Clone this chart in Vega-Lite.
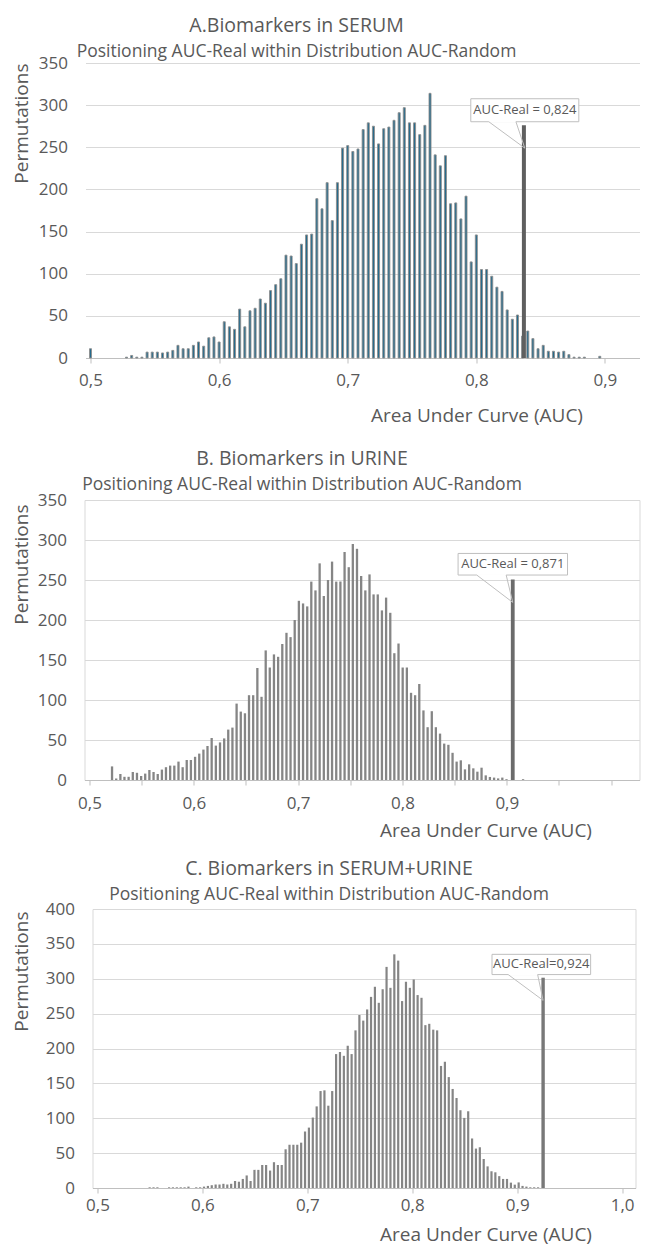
{
"$schema": "https://vega.github.io/schema/vega-lite/v6.json",
"background": "white",
"padding": {"left": 10.5, "top": 16, "right": 0, "bottom": 0},
"spacing": 23,
"config": {
  "font": "Open Sans",
  "axis": {"labelColor": "#595959", "titleColor": "#595959", "labelFontSize": 17, "titleFontSize": 19, "titleFontWeight": "normal", "gridColor": "#d9d9d9", "domainColor": "#bfbfbf", "tickColor": "#bfbfbf", "labelFont": "Open Sans", "titleFont": "Open Sans"},
  "title": {"fontSize": 19.5, "subtitleFontSize": 17.5, "color": "#595959", "subtitleColor": "#595959", "fontWeight": "normal", "font": "Open Sans", "subtitleFont": "Open Sans", "offset": -5, "subtitlePadding": 6, "anchor": "middle", "frame": "group"}
},
"datasets": {
  "spacer": [{}],
  "barsA": [
    {"auc":0.500,"count":11},{"auc":0.528,"count":1},{"auc":0.532,"count":3},{"auc":0.536,"count":1},{"auc":0.540,"count":1},{"auc":0.544,"count":7},{"auc":0.548,"count":7},{"auc":0.552,"count":7},{"auc":0.556,"count":6},{"auc":0.560,"count":7},{"auc":0.564,"count":9},{"auc":0.568,"count":15},{"auc":0.572,"count":11},{"auc":0.576,"count":11},{"auc":0.580,"count":15},{"auc":0.584,"count":19},{"auc":0.588,"count":14},{"auc":0.592,"count":24},{"auc":0.596,"count":25},{"auc":0.600,"count":19},{"auc":0.604,"count":43},{"auc":0.608,"count":37},{"auc":0.612,"count":34},{"auc":0.616,"count":58},{"auc":0.620,"count":37},{"auc":0.624,"count":56},{"auc":0.628,"count":59},{"auc":0.632,"count":70},{"auc":0.636,"count":65},{"auc":0.640,"count":80},{"auc":0.644,"count":87},{"auc":0.648,"count":94},{"auc":0.652,"count":122},{"auc":0.656,"count":121},{"auc":0.660,"count":112},{"auc":0.664,"count":135},{"auc":0.668,"count":146},{"auc":0.672,"count":147},{"auc":0.676,"count":189},{"auc":0.680,"count":177},{"auc":0.684,"count":208},{"auc":0.688,"count":163},{"auc":0.692,"count":208},{"auc":0.696,"count":249},{"auc":0.700,"count":252},{"auc":0.704,"count":245},{"auc":0.708,"count":248},{"auc":0.712,"count":271},{"auc":0.716,"count":279},{"auc":0.720,"count":275},{"auc":0.724,"count":254},{"auc":0.728,"count":272},{"auc":0.732,"count":274},{"auc":0.736,"count":282},{"auc":0.740,"count":291},{"auc":0.744,"count":297},{"auc":0.748,"count":279},{"auc":0.752,"count":279},{"auc":0.756,"count":265},{"auc":0.760,"count":276},{"auc":0.764,"count":314},{"auc":0.768,"count":241},{"auc":0.772,"count":228},{"auc":0.776,"count":240},{"auc":0.780,"count":183},{"auc":0.784,"count":184},{"auc":0.788,"count":165},{"auc":0.792,"count":192},{"auc":0.796,"count":114},{"auc":0.800,"count":146},{"auc":0.804,"count":105},{"auc":0.808,"count":105},{"auc":0.812,"count":97},{"auc":0.816,"count":84},{"auc":0.820,"count":79},{"auc":0.824,"count":57},{"auc":0.828,"count":46},{"auc":0.832,"count":51},{"auc":0.836,"count":26},{"auc":0.840,"count":32},{"auc":0.844,"count":23},{"auc":0.848,"count":11},{"auc":0.852,"count":15},{"auc":0.856,"count":8},{"auc":0.860,"count":8},{"auc":0.864,"count":7},{"auc":0.868,"count":8},{"auc":0.872,"count":4},{"auc":0.876,"count":1},{"auc":0.880,"count":1},{"auc":0.884,"count":1},{"auc":0.896,"count":2}
  ],
  "realA": [{"auc":0.837,"count":276}],
  "boxA": [{"auc":0.7957,"auc2":0.8797,"count":280.3,"count2":307.6}],
  "coverA": [{"auc":0.8097,"auc2":0.8308,"count":280.3}],
  "leadA": [{"auc":0.8097,"count":280.3,"auc2":0.8377,"count2":249},{"auc":0.8308,"count":280.3,"auc2":0.8377,"count2":249}],
  "labelA": [{"auc":0.8377,"count":293.9,"label":"AUC-Real = 0,824"}],
  "barsB": [
    {"auc":0.5216,"count":17},{"auc":0.5256,"count":2},{"auc":0.5296,"count":7.5},{"auc":0.5335,"count":4},{"auc":0.5375,"count":4},{"auc":0.5415,"count":10},{"auc":0.5455,"count":9},{"auc":0.5495,"count":5},{"auc":0.5534,"count":8},{"auc":0.5574,"count":12.5},{"auc":0.5614,"count":10},{"auc":0.5654,"count":7.5},{"auc":0.5694,"count":13},{"auc":0.5733,"count":16},{"auc":0.5773,"count":18},{"auc":0.5813,"count":18},{"auc":0.5853,"count":23},{"auc":0.5893,"count":16},{"auc":0.5932,"count":25},{"auc":0.5972,"count":25},{"auc":0.6012,"count":29},{"auc":0.6052,"count":33},{"auc":0.6092,"count":38},{"auc":0.6131,"count":42.5},{"auc":0.6171,"count":52.5},{"auc":0.6211,"count":43},{"auc":0.6251,"count":47},{"auc":0.6291,"count":52},{"auc":0.6330,"count":63},{"auc":0.6370,"count":65.5},{"auc":0.6410,"count":95.5},{"auc":0.6450,"count":85.5},{"auc":0.6490,"count":83.4},{"auc":0.6529,"count":106},{"auc":0.6569,"count":106},{"auc":0.6609,"count":140},{"auc":0.6649,"count":104},{"auc":0.6689,"count":162},{"auc":0.6728,"count":140.6},{"auc":0.6768,"count":157},{"auc":0.6808,"count":154},{"auc":0.6848,"count":170},{"auc":0.6888,"count":184},{"auc":0.6927,"count":178.6},{"auc":0.6967,"count":200},{"auc":0.7007,"count":224},{"auc":0.7047,"count":220.7},{"auc":0.7087,"count":217},{"auc":0.7126,"count":248},{"auc":0.7166,"count":237},{"auc":0.7206,"count":270.8},{"auc":0.7246,"count":230},{"auc":0.7286,"count":250},{"auc":0.7325,"count":273},{"auc":0.7365,"count":248},{"auc":0.7405,"count":248},{"auc":0.7445,"count":285},{"auc":0.7485,"count":266},{"auc":0.7524,"count":295},{"auc":0.7564,"count":289},{"auc":0.7604,"count":255},{"auc":0.7644,"count":237},{"auc":0.7684,"count":257},{"auc":0.7723,"count":232},{"auc":0.7763,"count":232},{"auc":0.7803,"count":212},{"auc":0.7843,"count":228},{"auc":0.7883,"count":209},{"auc":0.7922,"count":158.5},{"auc":0.7962,"count":170.6},{"auc":0.8002,"count":140.6},{"auc":0.8042,"count":140.6},{"auc":0.8082,"count":109},{"auc":0.8121,"count":106},{"auc":0.8161,"count":120},{"auc":0.8201,"count":87},{"auc":0.8241,"count":66},{"auc":0.8281,"count":86},{"auc":0.8320,"count":66},{"auc":0.8360,"count":58},{"auc":0.8400,"count":45.5},{"auc":0.8440,"count":44},{"auc":0.8480,"count":34},{"auc":0.8519,"count":23},{"auc":0.8559,"count":24.6},{"auc":0.8599,"count":13.3},{"auc":0.8639,"count":19.6},{"auc":0.8679,"count":14.6},{"auc":0.8718,"count":10.4},{"auc":0.8758,"count":15.4},{"auc":0.8798,"count":5.8},{"auc":0.8838,"count":3.8},{"auc":0.8878,"count":3},{"auc":0.8917,"count":2},{"auc":0.8957,"count":3},{"auc":0.8997,"count":1},{"auc":0.9156,"count":1}
  ],
  "realB": [{"auc":0.9057,"count":250.7}],
  "boxB": [{"auc":0.8533,"auc2":0.9582,"count":256.2,"count2":283.2}],
  "coverB": [{"auc":0.8712,"auc2":0.8994,"count":256.2}],
  "leadB": [{"auc":0.8712,"count":256.2,"auc2":0.9057,"count2":222},{"auc":0.8994,"count":256.2,"auc2":0.9057,"count2":222}],
  "labelB": [{"auc":0.9057,"count":269.7,"label":"AUC-Real = 0,871"}],
  "barsC": [
    {"auc":0.5497,"count":1},{"auc":0.5534,"count":1},{"auc":0.5571,"count":1},{"auc":0.5682,"count":1},{"auc":0.5719,"count":1},{"auc":0.5756,"count":1},{"auc":0.5793,"count":1},{"auc":0.5830,"count":1},{"auc":0.5867,"count":2},{"auc":0.5941,"count":1},{"auc":0.5978,"count":1},{"auc":0.6015,"count":2},{"auc":0.6052,"count":3},{"auc":0.6089,"count":4},{"auc":0.6126,"count":5},{"auc":0.6163,"count":5},{"auc":0.6200,"count":6},{"auc":0.6237,"count":5},{"auc":0.6274,"count":6},{"auc":0.6311,"count":10},{"auc":0.6348,"count":9},{"auc":0.6385,"count":13},{"auc":0.6422,"count":18},{"auc":0.6459,"count":10},{"auc":0.6496,"count":26},{"auc":0.6533,"count":26},{"auc":0.6570,"count":33},{"auc":0.6607,"count":33},{"auc":0.6645,"count":25},{"auc":0.6682,"count":37},{"auc":0.6719,"count":33},{"auc":0.6756,"count":33},{"auc":0.6793,"count":55.5},{"auc":0.6830,"count":62},{"auc":0.6867,"count":62},{"auc":0.6904,"count":62},{"auc":0.6941,"count":65},{"auc":0.6978,"count":81},{"auc":0.7015,"count":86.6},{"auc":0.7052,"count":101},{"auc":0.7089,"count":117},{"auc":0.7126,"count":139},{"auc":0.7163,"count":140},{"auc":0.7200,"count":118},{"auc":0.7237,"count":139},{"auc":0.7274,"count":192},{"auc":0.7311,"count":195},{"auc":0.7348,"count":189.5},{"auc":0.7385,"count":204},{"auc":0.7422,"count":192},{"auc":0.7459,"count":226},{"auc":0.7496,"count":248},{"auc":0.7533,"count":240},{"auc":0.7570,"count":256},{"auc":0.7607,"count":274},{"auc":0.7644,"count":288.5},{"auc":0.7681,"count":265.5},{"auc":0.7718,"count":285},{"auc":0.7755,"count":317},{"auc":0.7792,"count":287},{"auc":0.7829,"count":335},{"auc":0.7866,"count":326},{"auc":0.7903,"count":268},{"auc":0.7940,"count":295.7},{"auc":0.7977,"count":287},{"auc":0.8014,"count":299},{"auc":0.8051,"count":276.6},{"auc":0.8088,"count":272.7},{"auc":0.8125,"count":233.5},{"auc":0.8162,"count":235.4},{"auc":0.8200,"count":227},{"auc":0.8237,"count":226},{"auc":0.8274,"count":175},{"auc":0.8311,"count":181},{"auc":0.8348,"count":159},{"auc":0.8385,"count":142},{"auc":0.8422,"count":129},{"auc":0.8459,"count":111.5},{"auc":0.8496,"count":100.5},{"auc":0.8533,"count":110},{"auc":0.8570,"count":71},{"auc":0.8607,"count":56.5},{"auc":0.8644,"count":58.4},{"auc":0.8681,"count":41.6},{"auc":0.8718,"count":31},{"auc":0.8755,"count":24},{"auc":0.8792,"count":22.5},{"auc":0.8829,"count":17},{"auc":0.8866,"count":13},{"auc":0.8903,"count":13},{"auc":0.8940,"count":7.7},{"auc":0.8977,"count":4.8},{"auc":0.9014,"count":8},{"auc":0.9051,"count":3},{"auc":0.9088,"count":2},{"auc":0.9125,"count":1},{"auc":0.9162,"count":1},{"auc":0.9199,"count":1}
  ],
  "realC": [{"auc":0.9247,"count":301.5}],
  "boxC": [{"auc":0.876,"auc2":0.970,"count":306,"count2":335}],
  "coverC": [{"auc":0.8914,"auc2":0.9195,"count":306}],
  "leadC": [{"auc":0.8914,"count":306,"auc2":0.9247,"count2":269},{"auc":0.9195,"count":306,"auc2":0.9247,"count2":269}],
  "labelC": [{"auc":0.923,"count":320.5,"label":"AUC-Real=0,924"}]
},
"vconcat": [
 {"spacing": 0, "hconcat": [
  {"width": 1, "height": 1, "view": {"stroke": null}, "data": {"name": "spacer"}, "mark": {"type": "point", "size": 0, "opacity": 0}},
  {
    "width": 554, "height": 295,
    "view": {"stroke": null},
    "title": {"text": "A.Biomarkers in SERUM", "subtitle": "Positioning AUC-Real within Distribution AUC-Random", "dx": -66, "offset": -7},
    "encoding": {
      "x": {"field": "auc", "type": "quantitative", "scale": {"domain": [0.5, 0.923], "nice": false, "zero": false},
            "axis": {"values": [0.5, 0.6, 0.7, 0.8, 0.9], "grid": false, "tickSize": 5, "labelPadding": 9, "labelExpr": "replace(format(datum.value, '.1f'), '.', ',')", "title": "Area Under Curve (AUC)", "titleX": 391, "titleY": 63, "titleAlign": "center", "titleBaseline": "alphabetic"}},
      "y": {"field": "count", "type": "quantitative", "scale": {"domain": [0, 350], "nice": false},
            "axis": {"values": [0, 50, 100, 150, 200, 250, 300, 350], "domain": false, "ticks": false, "labelPadding": 18, "title": "Permutations", "titleX": -64.3, "titleY": 0, "titleAngle": 270, "titleAlign": "right", "titleBaseline": "middle"}}
    },
    "layer": [
      {"data": {"name": "barsA"}, "mark": {"type": "bar", "orient": "vertical", "size": 2, "fill": "#236a8c", "stroke": "#8d8d8d", "strokeWidth": 0.9}},
      {"data": {"name": "realA"}, "mark": {"type": "bar", "orient": "vertical", "size": 4, "fill": "#5f5f5f"}},
      {"data": {"name": "boxA"}, "mark": {"type": "rect", "fill": "white", "stroke": "#bfbfbf", "strokeWidth": 1}, "encoding": {"x2": {"field": "auc2"}, "y2": {"field": "count2"}}},
      {"data": {"name": "coverA"}, "mark": {"type": "rule", "color": "white", "strokeWidth": 2}, "encoding": {"x2": {"field": "auc2"}}},
      {"data": {"name": "leadA"}, "mark": {"type": "rule", "color": "#bfbfbf", "strokeWidth": 1}, "encoding": {"x2": {"field": "auc2"}, "y2": {"field": "count2"}}},
      {"data": {"name": "labelA"}, "mark": {"type": "text", "fontSize": 13, "color": "#595959", "font": "Open Sans"}, "encoding": {"text": {"field": "label"}}}
    ]
  }
 ]},
 {"spacing": 17, "vconcat": [
 {"spacing": 0, "hconcat": [
  {"width": 1, "height": 1, "view": {"stroke": null}, "data": {"name": "spacer"}, "mark": {"type": "point", "size": 0, "opacity": 0}},
  {
    "width": 555, "height": 280,
    "view": {"stroke": "#d9d9d9"},
    "title": {"text": "B. Biomarkers in URINE", "subtitle": "Positioning AUC-Real within Distribution AUC-Random", "dx": -60, "offset": -3},
    "encoding": {
      "x": {"field": "auc", "type": "quantitative", "scale": {"domain": [0.5, 1.0224], "nice": false, "zero": false},
            "axis": {"values": [0.5, 0.55, 0.6, 0.65, 0.7, 0.75, 0.8, 0.85, 0.9, 0.95, 1.0], "grid": false, "tickSize": 5, "labelPadding": 10, "labelExpr": "datum.value < 0.93 && abs(datum.value * 10 - round(datum.value * 10)) < 0.01 ? replace(format(datum.value, '.1f'), '.', ',') : ''", "title": "Area Under Curve (AUC)", "titleX": 401, "titleY": 56, "titleAlign": "center", "titleBaseline": "alphabetic"}},
      "y": {"field": "count", "type": "quantitative", "scale": {"domain": [0, 350], "nice": false},
            "axis": {"values": [0, 50, 100, 150, 200, 250, 300, 350], "domain": false, "ticks": false, "labelPadding": 18, "title": "Permutations", "titleX": -62.9, "titleY": 4, "titleAngle": 270, "titleAlign": "right", "titleBaseline": "middle"}}
    },
    "layer": [
      {"data": {"name": "barsB"}, "mark": {"type": "bar", "orient": "vertical", "size": 2.3, "fill": "#858585"}},
      {"data": {"name": "realB"}, "mark": {"type": "bar", "orient": "vertical", "size": 3.8, "fill": "#6b6b6b"}},
      {"data": {"name": "boxB"}, "mark": {"type": "rect", "fill": "white", "stroke": "#bfbfbf", "strokeWidth": 1}, "encoding": {"x2": {"field": "auc2"}, "y2": {"field": "count2"}}},
      {"data": {"name": "coverB"}, "mark": {"type": "rule", "color": "white", "strokeWidth": 2}, "encoding": {"x2": {"field": "auc2"}}},
      {"data": {"name": "leadB"}, "mark": {"type": "rule", "color": "#bfbfbf", "strokeWidth": 1}, "encoding": {"x2": {"field": "auc2"}, "y2": {"field": "count2"}}},
      {"data": {"name": "labelB"}, "mark": {"type": "text", "fontSize": 13, "color": "#595959", "font": "Open Sans"}, "encoding": {"text": {"field": "label"}}}
    ]
  }
 ]},
 {"spacing": 0, "hconcat": [
  {"width": 1, "height": 1, "view": {"stroke": null}, "data": {"name": "spacer"}, "mark": {"type": "point", "size": 0, "opacity": 0}},
  {
    "width": 543, "height": 279,
    "view": {"stroke": "#d9d9d9"},
    "title": {"text": "C. Biomarkers in SERUM+URINE", "subtitle": "Positioning AUC-Real within Distribution AUC-Random", "dx": -35, "offset": -4},
    "encoding": {
      "x": {"field": "auc", "type": "quantitative", "scale": {"domain": [0.5, 1.008], "nice": false, "zero": false},
            "axis": {"values": [0.5, 0.6, 0.7, 0.8, 0.9, 1.0], "grid": false, "tickSize": 5, "labelPadding": 4, "labelExpr": "replace(format(datum.value, '.1f'), '.', ',')", "title": "Area Under Curve (AUC)", "titleX": 393, "titleY": 52, "titleAlign": "center", "titleBaseline": "alphabetic"}},
      "y": {"field": "count", "type": "quantitative", "scale": {"domain": [0, 400], "nice": false},
            "axis": {"values": [0, 50, 100, 150, 200, 250, 300, 350, 400], "domain": false, "ticks": false, "labelPadding": 18, "title": "Permutations", "titleX": -71, "titleY": 2, "titleAngle": 270, "titleAlign": "right", "titleBaseline": "middle"}}
    },
    "layer": [
      {"data": {"name": "barsC"}, "mark": {"type": "bar", "orient": "vertical", "size": 2.2, "fill": "#858585"}},
      {"data": {"name": "realC"}, "mark": {"type": "bar", "orient": "vertical", "size": 3.4, "fill": "#787878"}},
      {"data": {"name": "boxC"}, "mark": {"type": "rect", "fill": "white", "stroke": "#bfbfbf", "strokeWidth": 1}, "encoding": {"x2": {"field": "auc2"}, "y2": {"field": "count2"}}},
      {"data": {"name": "coverC"}, "mark": {"type": "rule", "color": "white", "strokeWidth": 2}, "encoding": {"x2": {"field": "auc2"}}},
      {"data": {"name": "leadC"}, "mark": {"type": "rule", "color": "#bfbfbf", "strokeWidth": 1}, "encoding": {"x2": {"field": "auc2"}, "y2": {"field": "count2"}}},
      {"data": {"name": "labelC"}, "mark": {"type": "text", "fontSize": 13, "color": "#595959", "font": "Open Sans"}, "encoding": {"text": {"field": "label"}}}
    ]
  }
 ]}
 ]}
]
}
